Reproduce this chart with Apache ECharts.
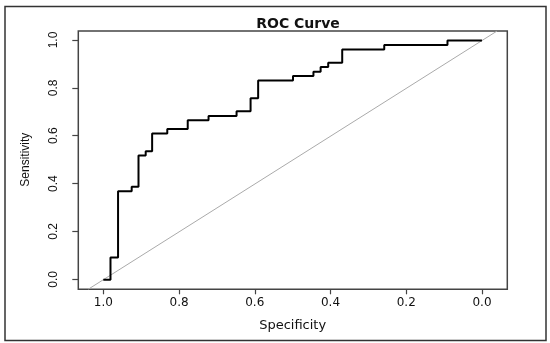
<!DOCTYPE html>
<html>
<head>
<meta charset="utf-8">
<script src="https://cdn.jsdelivr.net/npm/echarts@6/dist/echarts.min.js"></script>
<style>
html,body{margin:0;padding:0;background:#fff;}
#chart{width:550px;height:343px;}
</style>
</head>
<body>
<div id="chart"></div>
<script>
// ROC step-curve corner points (specificity, sensitivity)
var specificity = [1.0, 0.981, 0.961, 0.925, 0.907, 0.888, 0.871, 0.831, 0.777, 0.722, 0.648, 0.611, 0.591, 0.499, 0.445, 0.426, 0.406, 0.369, 0.258, 0.091, 0.0];
var sensitivity = [0.0, 0.093, 0.370, 0.389, 0.519, 0.537, 0.611, 0.630, 0.667, 0.685, 0.704, 0.759, 0.833, 0.852, 0.870, 0.889, 0.907, 0.963, 0.981, 1.0, 1.0];
// chance diagonal (sensitivity = 1 - specificity), spanning the plot box
var diagSpec = [1.04, -0.04];
var diagSens = [-0.04, 1.04];
var tickMin = 0, tickMax = 1, tickStep = 0.2;

var curveData = specificity.map(function (s, i) { return [s, sensitivity[i]]; });
var diagData = diagSpec.map(function (s, i) { return [s, diagSens[i]]; });

var fmt = function (v) { return v.toFixed(1); };

var chart = echarts.init(document.getElementById('chart'), null, {renderer: 'canvas'});
chart.setOption({
  animation: false,
  backgroundColor: '#fff',
  title: {
    text: 'ROC Curve',
    left: 293,
    top: 12,
    textAlign: 'center',
    textStyle: {fontFamily: 'DejaVu Sans', fontWeight: 'bold', fontSize: 14, color: '#111'}
  },
  graphic: [{
    type: 'rect',
    shape: {x: 5, y: 6.5, width: 541, height: 334},
    style: {fill: 'none', stroke: '#333', lineWidth: 1.5},
    silent: true
  }],
  grid: [
    {   // plot box (data region, R-style extended limits)
      left: 78.3, right: 42.7, top: 31, bottom: 53.7,
      show: true, borderColor: '#444', borderWidth: 1.5, backgroundColor: 'transparent'
    },
    {   // tick range region (0..1 on both axes)
      left: 103.3, right: 68, top: 40, bottom: 63.7
    }
  ],
  xAxis: [
    {
      gridIndex: 0, type: 'value', inverse: true, min: -0.067, max: 1.066,
      axisLine: {show: false, onZero: false}, axisTick: {show: false}, axisLabel: {show: false}, splitLine: {show: false}
    },
    {
      gridIndex: 1, type: 'value', inverse: true, min: tickMin, max: tickMax, interval: tickStep,
      position: 'bottom', offset: 10,
      name: 'Specificity', nameLocation: 'middle', nameGap: 30,
      nameTextStyle: {fontFamily: 'DejaVu Sans', fontSize: 13, color: '#111'},
      axisLine: {show: false, onZero: false},
      splitLine: {show: false},
      axisTick: {show: true, inside: false, length: 5, lineStyle: {color: '#444', width: 1.2}},
      axisLabel: {margin: 8, fontFamily: 'DejaVu Sans', fontSize: 12, color: '#111', formatter: fmt}
    }
  ],
  yAxis: [
    {
      gridIndex: 0, type: 'value', min: -0.04, max: 1.04,
      axisLine: {show: false, onZero: false}, axisTick: {show: false}, axisLabel: {show: false}, splitLine: {show: false}
    },
    {
      gridIndex: 1, type: 'value', min: tickMin, max: tickMax, interval: tickStep,
      position: 'left', offset: 25,
      name: 'Sensitivity', nameLocation: 'middle', nameGap: 47,
      nameTextStyle: {fontFamily: 'Liberation Sans Narrow, Liberation Sans, sans-serif', fontSize: 12, color: '#111'},
      axisLine: {show: false, onZero: false},
      splitLine: {show: false},
      axisTick: {show: true, inside: false, length: 6, lineStyle: {color: '#444', width: 1.2}},
      axisLabel: {rotate: 90, margin: 19, fontFamily: 'Liberation Sans, Arial, sans-serif', fontSize: 12, color: '#111', formatter: fmt}
    }
  ],
  series: [
    {
      type: 'line', xAxisIndex: 0, yAxisIndex: 0,
      data: diagData,
      symbol: 'none', silent: true,
      lineStyle: {color: '#aaa', width: 1},
      z: 2
    },
    {
      type: 'line', xAxisIndex: 0, yAxisIndex: 0,
      data: curveData,
      step: 'end',
      symbol: 'none', silent: true,
      lineStyle: {color: '#000', width: 2},
      z: 3
    }
  ]
});
</script>
</body>
</html>
